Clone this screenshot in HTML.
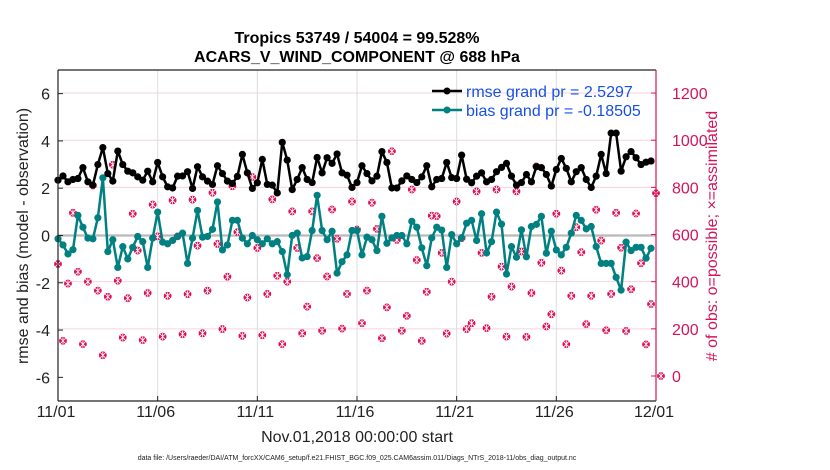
<!DOCTYPE html>
<html><head><meta charset="utf-8"><style>
html,body{margin:0;padding:0;background:#fff;}
svg{display:block;font-family:"Liberation Sans",Arial,sans-serif;}
</style></head><body>
<svg id="chart" width="830" height="470" viewBox="0 0 830 470">
<g id="grid"></g>
<g id="series"></g>
<g id="axes"></g>
<text x="357" y="43" text-anchor="middle" font-size="16" font-weight="bold">Tropics 53749 / 54004 = 99.528%</text>
<text x="357" y="62" text-anchor="middle" font-size="16" font-weight="bold">ACARS_V_WIND_COMPONENT @ 688 hPa</text>
<text transform="translate(28,236) rotate(-90)" text-anchor="middle" font-size="16" fill="#222">rmse and bias (model - observation)</text>
<text transform="translate(717,236) rotate(-90)" text-anchor="middle" font-size="16" fill="#d4145a"># of obs: o=possible; ×=assimilated</text>
<text x="357" y="442" text-anchor="middle" font-size="16" fill="#222">Nov.01,2018 00:00:00 start</text>
<text x="357" y="460" text-anchor="middle" font-size="7" fill="#222">data file: /Users/raeder/DAI/ATM_forcXX/CAM6_setup/f.e21.FHIST_BGC.f09_025.CAM6assim.011/Diags_NTrS_2018-11/obs_diag_output.nc</text>
<g id="legend">
 <line x1="432" y1="91" x2="462" y2="91" stroke="#000" stroke-width="2.5"/>
 <circle cx="447" cy="91" r="3.5" fill="#000"/>
 <text x="466" y="97" font-size="16" fill="#1750e6">rmse grand pr = 2.5297</text>
 <line x1="432" y1="110" x2="462" y2="110" stroke="#008080" stroke-width="2.5"/>
 <circle cx="447" cy="110" r="3.5" fill="#008080"/>
 <text x="466" y="116" font-size="16" fill="#1750e6">bias grand pr = -0.18505</text>
</g>
</svg>
<script>
const rmseValues=[2.34,2.52,2.27,2.37,2.41,2.87,2.27,2.13,3.0,3.72,2.62,2.3,3.57,3.0,2.72,2.65,2.48,2.34,2.72,2.27,3.09,2.48,2.06,2.01,2.51,2.52,2.7,1.99,2.91,2.48,2.3,2.16,2.95,2.62,2.3,2.2,2.5,
3.43,2.65,1.99,2.23,3.22,2.16,2.13,1.8,3.94,3.19,1.94,2.37,2.87,2.37,2.24,3.3,2.65,3.29,3.05,3.45,2.65,2.55,2.03,2.24,2.95,2.62,2.31,2.51,3.55,3.09,2.01,2.01,2.31,2.52,2.37,2.24,2.48,2.95,
2.06,2.37,2.41,3.09,2.45,2.41,3.4,2.38,2.23,2.51,2.65,2.27,2.37,2.7,2.88,3.05,2.51,2.13,2.24,2.58,2.27,2.91,2.87,2.58,2.09,2.79,3.26,2.84,2.27,2.7,2.87,2.37,2.03,2.51,3.43,2.62,
4.33,4.33,2.72,3.33,3.55,3.29,3.0,3.1,3.15];
const biasValues=[-0.14,-0.4,-0.78,-0.6,0.85,0.35,-0.11,-0.14,0.75,2.44,-0.68,-0.18,-1.35,-0.47,-0.99,-0.5,-0.04,-0.26,-1.35,-0.11,0.99,-0.28,-0.35,-0.21,-0.04,0.1,-1.18,-0.11,1.06,-0.07,-0.04,0.26,1.42,-0.61,-0.4,0.64,0.64,
-0.11,-0.35,0,-0.18,-0.35,-0.14,-0.35,-0.26,-0.68,-1.66,0,0.1,-0.95,-0.89,0.21,1.7,0.21,-0.18,0.18,-1.59,-1.11,-0.82,0.21,0.21,-0.82,-0.07,-0.18,-0.64,0.81,-0.33,-0.1,0,0,-0.35,0.6,0.35,-0.52,-1.28,
-0.1,0.35,0.23,-1.35,0.04,-0.35,-0.1,0.52,0.64,-0.21,0.92,-0.74,-0.26,0.99,0.48,-1.63,-0.47,-0.92,0.24,-0.9,0.38,0.47,0.81,-0.75,0.18,-0.61,
-0.82,-0.5,0.1,0.85,0.64,0.28,0.38,-0.47,-1.18,-1.18,-1.18,-1.77,-2.31,-0.28,-0.64,-0.5,-0.5,-0.96,-0.54];
const obsCounts=[475,149,392,692,442,135,400,808,362,88,336,896,404,163,330,688,532,152,352,727,592,167,340,745,592,177,347,748,553,181,362,777,560,199,421,805,610,170,
333,844,543,173,348,749,425,135,400,698,543,181,294,698,500,192,422,706,582,201,348,740,621,224,362,735,624,160,291,953,577,192,255,791,492,149,357,680,
678,522,180,400,740,585,199,224,783,522,203,336,791,464,167,379,783,528,166,352,889,480,210,262,688,447,135,340,631,525,220,340,705,574,194,348,692,
544,191,368,689,478,134,305,775,0];
const xTickLabels=["11/01","11/06","11/11","11/16","11/21","11/26","12/01"];
const leftTicks=[-6,-4,-2,0,2,4,6];
const rightTicks=[0,200,400,600,800,1000,1200];

const L=58,R=656,T=70,B=401,NS="http://www.w3.org/2000/svg";
const xs=d=>L+d/30*(R-L);
const yl=v=>T+(7-v)/14*(B-T);
const yr=c=>376-c*0.2358;
function mk(tag,attrs,parent){const e=document.createElementNS(NS,tag);for(const k in attrs)e.setAttribute(k,attrs[k]);parent.appendChild(e);return e;}
const grid=document.getElementById('grid'),ser=document.getElementById('series'),axes=document.getElementById('axes');

rightTicks.forEach(c=>{if(c===600||c===0)return;const l=mk('line',{x1:L,x2:R,y1:yr(c),y2:yr(c),stroke:'#f6d3df','stroke-width':1},grid);

});
xTickLabels.forEach((t,i)=>{const x=xs(i*5);
if(i>0&&i<6){const g=mk('line',{x1:x,x2:x,y1:T,y2:B,stroke:'#dcdcdc','stroke-width':1},grid);

}
const tk=mk('line',{x1:x,x2:x,y1:B,y2:B-5,stroke:'#222'},axes);


const tx=mk('text',{x:x-2,y:417,'text-anchor':'middle','font-size':16,fill:'#222'},axes);tx.textContent=t;

});
const zl=mk('line',{x1:L,x2:R,y1:yl(0),y2:yl(0),stroke:'#b9b9b9','stroke-width':2.2},grid);



// obs markers
obsCounts.forEach((c,i)=>{const x=xs(i*0.25),y=yr(c);const g=mk('g',{stroke:'#dc1258','stroke-width':1.2,fill:'none'},ser);


mk('circle',{cx:x,cy:y,r:3.3,fill:'#dc1258'},g);
mk('path',{d:`M${x-3},${y-3}L${x+3},${y+3}M${x-3},${y+3}L${x+3},${y-3}M${x},${y-3.5}L${x},${y+3.5}`,stroke:'#fff','stroke-width':0.8},g);});

function drawSeries(vals,color,name){
 const pts=vals.map((v,i)=>xs(i*0.25)+','+yl(v)).join(' ');
 const pl=mk('polyline',{points:pts,fill:'none',stroke:color,'stroke-width':2.5,'stroke-linejoin':'round'},ser);
 
 
 vals.forEach((v,i)=>{const c=mk('circle',{cx:xs(i*0.25),cy:yl(v),r:3.6,fill:color},ser);
 
 });
}
drawSeries(biasValues,'#008080','bias');
drawSeries(rmseValues,'#000000','rmse');

// frame
const fr=[[L,T,R,T,'#222'],[L,T,L,B,'#222'],[L,B,R,B,'#222'],[R,T,R,B,'#d4145a']];
fr.forEach(f=>{const l=mk('line',{x1:f[0],y1:f[1],x2:f[2],y2:f[3],stroke:f[4],'stroke-width':1.2},axes);

});
leftTicks.forEach(v=>{const y=yl(v);const tk=mk('line',{x1:L,x2:L+5,y1:y,y2:y,stroke:'#222'},axes);


const t=mk('text',{x:50,y:y+6,'text-anchor':'end','font-size':16,fill:'#222'},axes);t.textContent=v;

});
rightTicks.forEach(c=>{const y=yr(c);const tk=mk('line',{x1:R-5,x2:R,y1:y,y2:y,stroke:'#d4145a'},axes);


const t=mk('text',{x:672,y:y+6,'font-size':16,fill:'#d4145a'},axes);t.textContent=c;

});
</script>
</body></html>
